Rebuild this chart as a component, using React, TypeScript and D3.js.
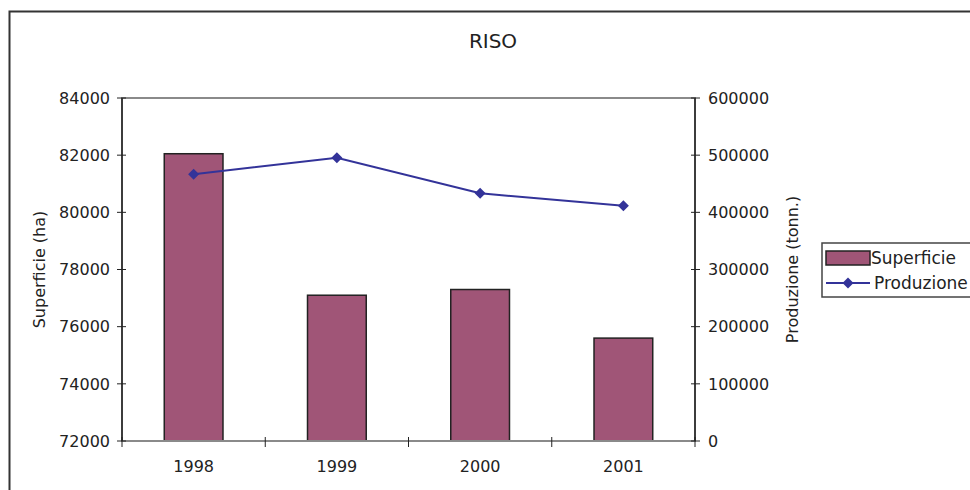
import React, { useEffect } from 'react'
import * as d3 from 'd3'

const years = ['1998', '1999', '2000', '2001']
const superficie = [82050, 77100, 77300, 75600]
const produzione = [466500, 495500, 433300, 411600]
const leftTicks = [72000, 74000, 76000, 78000, 80000, 82000, 84000]
const rightTicks = [0, 100000, 200000, 300000, 400000, 500000, 600000]

const W = 970
const H = 490
const font = "'DejaVu Sans', sans-serif"

const App: React.FC = () => {
  useEffect(() => {
    document.body.style.margin = '0'
  }, [])

  // plot area
  const left = 122
  const right = 695
  const top = 98
  const bottom = 441

  const x = d3.scaleBand<string>().domain(years).range([left, right]).paddingInner(0).paddingOuter(0)
  const yL = d3.scaleLinear().domain([72000, 84000]).range([bottom, top])
  const yR = d3.scaleLinear().domain([0, 600000]).range([bottom, top])
  const barW = x.bandwidth() * 0.41
  const cx = (d: string) => (x(d) ?? 0) + x.bandwidth() / 2

  const line = d3
    .line<number>()
    .x((_, i) => cx(years[i]))
    .y((d) => yR(d))

  const diamond = (px: number, py: number, r = 5.5) =>
    `M${px},${py - r}L${px + r},${py}L${px},${py + r}L${px - r},${py}Z`

  const barColor = '#a05577'
  const lineColor = '#333399'
  const axisColor = '#222'

  return (
    <svg width={W} height={H} style={{ display: 'block', background: '#fff' }} fontFamily={font}>
      {/* outer frame */}
      <rect x={9.5} y={11.5} width={W + 10} height={H + 10} fill="none" stroke="#333" strokeWidth={2} />

      <text x={493} y={48} textAnchor="middle" fontSize={20} fill="#222">
        RISO
      </text>

      {/* plot border */}
      <rect x={left} y={top} width={right - left} height={bottom - top} fill="none" stroke="#8a8a8a" strokeWidth={2} />

      {/* bars */}
      {years.map((yr, i) => (
        <rect
          key={yr}
          x={cx(yr) - barW / 2}
          y={yL(superficie[i])}
          width={barW}
          height={bottom - yL(superficie[i])}
          fill={barColor}
          stroke="#222"
          strokeWidth={1.5}
        />
      ))}

      {/* line series */}
      <path d={line(produzione) ?? ''} fill="none" stroke={lineColor} strokeWidth={2} />
      {produzione.map((v, i) => (
        <path key={i} d={diamond(cx(years[i]), yR(v))} fill={lineColor} />
      ))}

      {/* bottom axis */}
      <line x1={left} x2={right} y1={bottom} y2={bottom} stroke="#8a8a8a" strokeWidth={2} />
      {[...years.map((d) => x(d) ?? 0), right].map((px, i) => (
        <line key={i} x1={px} x2={px} y1={bottom - 4} y2={bottom + 6} stroke={axisColor} strokeWidth={1} />
      ))}
      {years.map((yr) => (
        <text key={yr} x={cx(yr)} y={472} textAnchor="middle" fontSize={16} fill="#222">
          {yr}
        </text>
      ))}

      {/* left axis */}
      <line x1={left} x2={left} y1={top} y2={bottom} stroke={axisColor} strokeWidth={1.5} />
      {leftTicks.map((t) => (
        <g key={t}>
          <line x1={left - 5} x2={left + 4} y1={yL(t)} y2={yL(t)} stroke={axisColor} strokeWidth={1} />
          <text x={110} y={yL(t)} dy="0.36em" textAnchor="end" fontSize={16} fill="#222">
            {t}
          </text>
        </g>
      ))}
      <text
        transform={`translate(45,${(top + bottom) / 2}) rotate(-90)`}
        textAnchor="middle"
        fontSize={16}
        fill="#222"
      >
        Superficie (ha)
      </text>

      {/* right axis */}
      <line x1={right} x2={right} y1={top} y2={bottom} stroke={axisColor} strokeWidth={1.5} />
      {rightTicks.map((t) => (
        <g key={t}>
          <line x1={right - 4} x2={right + 5} y1={yR(t)} y2={yR(t)} stroke={axisColor} strokeWidth={1} />
          <text x={708} y={yR(t)} dy="0.36em" textAnchor="start" fontSize={16} fill="#222">
            {t}
          </text>
        </g>
      ))}
      <text
        transform={`translate(798,${(top + bottom) / 2}) rotate(-90)`}
        textAnchor="middle"
        fontSize={16}
        fill="#222"
      >
        Produzione (tonn.)
      </text>

      {/* legend */}
      <rect x={822} y={243} width={160} height={54} fill="#fff" stroke="#444" strokeWidth={1.5} />
      <rect x={826} y={251} width={44} height={14} fill={barColor} stroke="#222" strokeWidth={1.5} />
      <text x={871} y={258} dy="0.36em" fontSize={17} fill="#222">
        Superficie
      </text>
      <line x1={826} x2={870} y1={283} y2={283} stroke={lineColor} strokeWidth={2} />
      <path d={diamond(848, 283)} fill={lineColor} />
      <text x={874} y={283} dy="0.36em" fontSize={17} fill="#222">
        Produzione
      </text>
    </svg>
  )
}

export default App
